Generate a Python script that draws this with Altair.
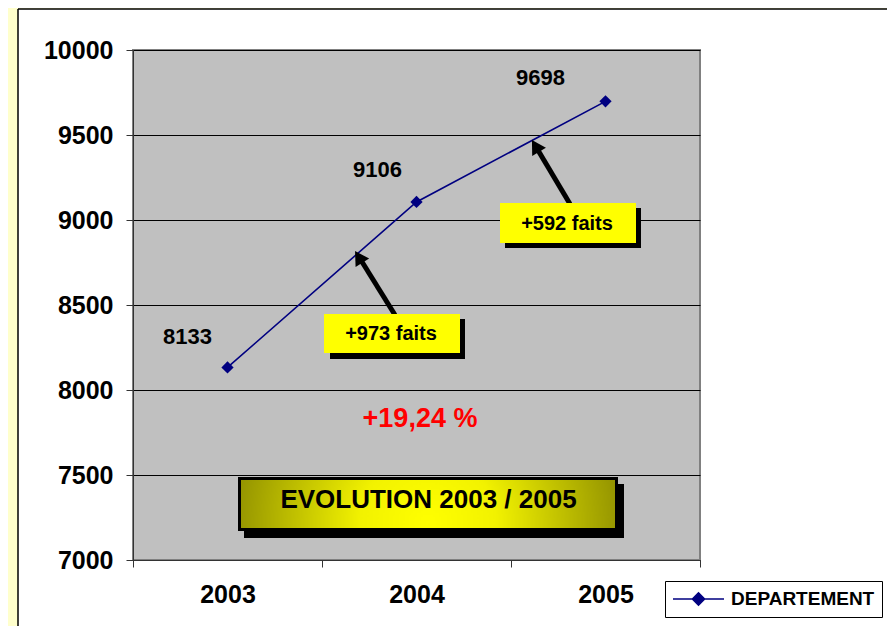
import altair as alt
import pandas as pd

# ---- data ----
years = ["2003", "2004", "2005"]
values = [8133, 9106, 9698]
series = ["DEPARTEMENT", "DEPARTEMENT", "DEPARTEMENT"]
y_ticks = [7000, 7500, 8000, 8500, 9000, 9500, 10000]
delta_labels = ["+973 faits", "+592 faits"]
growth_label = ["+19,24 %"]
title_label = ["EVOLUTION 2003 / 2005"]

df = pd.DataFrame({"year": years, "value": values, "series": series})
one = pd.DataFrame({"k": [0]})

FONT = "Liberation Sans"
NAVY = "#000080"

x_enc = alt.X(
    "year:O",
    scale=alt.Scale(type="band", paddingInner=0, paddingOuter=0),
    axis=alt.Axis(
        title=None, labelAngle=0, tickBand="extent", grid=False,
        labelFont=FONT, labelFontSize=25, labelFontWeight="bold", labelColor="black",
        labelPadding=15, tickSize=7, tickColor="#333333", domainColor="#333333",
    ),
)
y_enc = alt.Y(
    "value:Q",
    scale=alt.Scale(domain=[7000, 10000], nice=False, zero=False),
    axis=alt.Axis(
        title=None, values=y_ticks, format="d", grid=True, gridColor="black",
        gridWidth=1, gridOpacity=1,
        labelFont=FONT, labelFontSize=25, labelFontWeight="bold", labelColor="black",
        labelPadding=13, tickSize=7, tickColor="#333333", domainColor="#333333",
    ),
)

# ---- decorative frame (outside plot area) ----
def rect(x, x2, y, y2, **kw):
    return alt.Chart(one).mark_rect(**kw).encode(
        x=alt.value(x), x2=alt.value(x2), y=alt.value(y), y2=alt.value(y2)
    )

def rule(x, x2, y, y2, **kw):
    return alt.Chart(one).mark_rule(**kw).encode(
        x=alt.value(x), x2=alt.value(x2), y=alt.value(y), y2=alt.value(y2)
    )

def label(text_list, x, y, **kw):
    return alt.Chart(pd.DataFrame({"t": text_list})).mark_text(**kw).encode(
        text="t:N", x=alt.value(x), y=alt.value(y)
    )

frame_left = rect(-125, -115, -42, 600, color="#FFFFCC")
frame_top = rect(-125, 760, -42, -41, color="#FFFFCC")
frame_line_v = rule(-115, -115, -41, 600, color="black", strokeWidth=1.5)
frame_line_h = rule(-115, 760, -41, -41, color="black", strokeWidth=1.5)

# ---- data layers ----
legend_path = "M-1,0L1,0M-0.24,0L0,-0.24L0.24,0L0,0.24Z"
line = alt.Chart(df).mark_line(strokeWidth=1.6).encode(
    x=x_enc, y=y_enc,
    color=alt.Color(
        "series:N",
        scale=alt.Scale(range=[NAVY]),
        legend=alt.Legend(
            title=None, orient="none", legendX=532, legendY=531,
            symbolType=legend_path, symbolSize=2601, clipHeight=22,
            padding=7, labelOffset=6, strokeColor="black", fillColor="white",
            labelFont=FONT, labelFontSize=19, labelFontWeight="bold",
            labelColor="black", labelLimit=300,
            symbolStrokeWidth=1.5, symbolStrokeColor=NAVY, symbolFillColor=NAVY,
        ),
    ),
)
points = alt.Chart(df).mark_point(
    shape="diamond", filled=True, size=150, color=NAVY, opacity=1
).encode(x="year:O", y="value:Q")

label_offsets = {"2003": (-40, -30), "2004": (-39, -32), "2005": (-65, -23)}
value_labels = [
    alt.Chart(df).transform_filter(alt.datum.year == yr).mark_text(
        fontSize=22, fontWeight="bold", font=FONT, color="black", dx=dx, dy=dy
    ).encode(x="year:O", y="value:Q", text=alt.Text("value:Q", format="d"))
    for yr, (dx, dy) in label_offsets.items()
]

# ---- annotations ----
arrow1 = rule(262, 226, 265, 207, color="black", strokeWidth=5)
head1 = alt.Chart(one).mark_point(
    shape="triangle-up", filled=True, size=256, color="black", opacity=1, angle=328
).encode(x=alt.value(225.7), y=alt.value(206.9))
arrow2 = rule(437, 402.5, 154, 96, color="black", strokeWidth=5)
head2 = alt.Chart(one).mark_point(
    shape="triangle-up", filled=True, size=256, color="black", opacity=1, angle=329
).encode(x=alt.value(402.5), y=alt.value(95.9))

shadow1 = rect(197, 332, 269, 309, color="black")
box1 = rect(191, 327, 264, 303, color="#FFFF00")
text1 = label([delta_labels[0]], 258, 284, font=FONT, fontSize=20,
              fontWeight="bold", color="black", baseline="middle")
shadow2 = rect(372, 508, 158, 198, color="black")
box2 = rect(367, 503, 153, 193, color="#FFFF00")
text2 = label([delta_labels[1]], 434, 174, font=FONT, fontSize=20,
              fontWeight="bold", color="black", baseline="middle")

growth = label(growth_label, 287, 369, font=FONT, fontSize=27,
               fontWeight="bold", color="#FF0000", baseline="middle")

gradient = alt.RadialGradient(
    gradient="radial",
    stops=[
        alt.GradientStop(offset=0, color="#FFFF00"),
        alt.GradientStop(offset=0.3, color="#F2F200"),
        alt.GradientStop(offset=1, color="#7A7A00"),
    ],
    x1=0.5, y1=0.55, r1=0, x2=0.5, y2=0.55, r2=0.6,
)
evo_shadow = rect(111, 491, 434, 488, color="black")
evo_box = alt.Chart(one).mark_rect(fill=gradient, stroke="black", strokeWidth=3).encode(
    x=alt.value(106.5), x2=alt.value(483.5), y=alt.value(428.5), y2=alt.value(479.5)
)
evo_text = label(title_label, 295.5, 450, font=FONT, fontSize=26,
                 fontWeight="bold", color="black", baseline="middle")

chart = alt.layer(
    frame_left, frame_top, frame_line_v, frame_line_h,
    line, points, *value_labels,
    arrow1, head1, arrow2, head2,
    shadow1, box1, text1, shadow2, box2, text2,
    growth, evo_shadow, evo_box, evo_text,
).properties(
    width=567, height=510,
    autosize=alt.AutoSizeParams(type="none"),
    padding={"left": 125, "top": 42, "right": 187, "bottom": 66},
    background="white",
).configure_view(
    fill="#C0C0C0", stroke="#808080", strokeWidth=2
)

chart.save("out.html", embed_options={"renderer": "svg", "actions": False})
